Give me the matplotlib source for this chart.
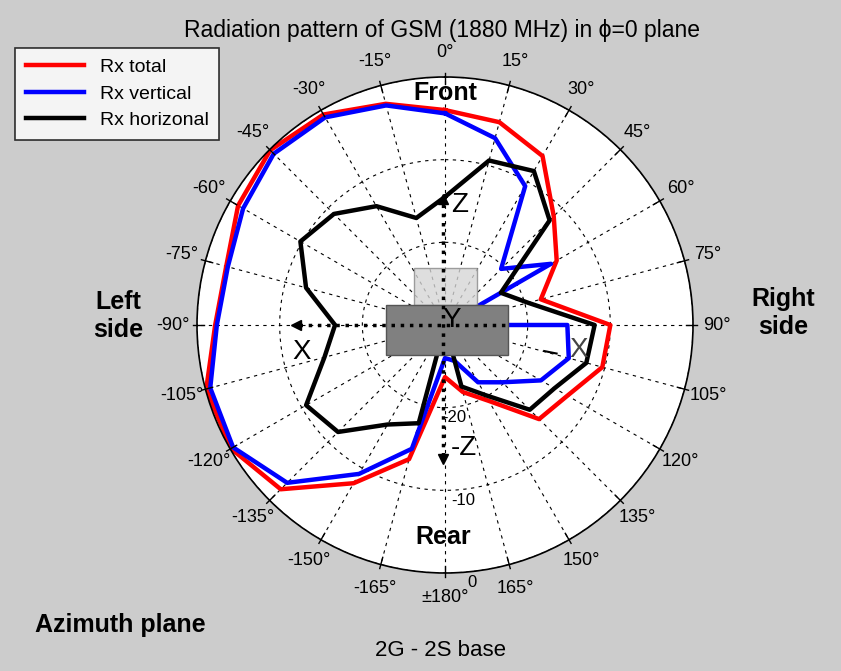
import numpy as np
import matplotlib.pyplot as plt
from matplotlib.patches import Rectangle

plt.rcParams['font.family'] = ['Liberation Sans', 'DejaVu Sans']

# azimuth angles in degrees, 0 = front, clockwise positive
angles_deg = [0, 15, 30, 45, 60, 75, 90, 105, 120, 135, 150, 165, 180,
              -165, -150, -135, -120, -105, -90, -75, -60, -45, -30, -15]
# levels in dB
rx_total = [-4.0, -4.6, -6.4, -11.4, -14.4, -18.0, -10.0, -10.3, -12.9, -13.9, -19.4, -21.6, -23.7,
            -13.2, -7.9, -1.9, -0.1, -0.1, -2.2, -2.6, -1.1, -0.1, -0.6, -2.3]
rx_vertical = [-4.4, -6.6, -10.6, -20.4, -15.2, -30.0, -15.2, -14.5, -16.6, -20.2, -22.0, -25.5, -26.0,
               -14.5, -9.2, -3.0, -0.4, -0.6, -2.4, -2.8, -1.8, -0.7, -1.0, -2.5]
rx_horizontal = [-14.5, -9.4, -8.5, -12.1, -22.2, -19.6, -11.9, -12.3, -14.7, -15.5, -20.2, -22.3, -30.0,
                 -17.7, -16.1, -11.7, -10.6, -14.9, -16.7, -12.6, -9.8, -11.0, -13.4, -16.6]

tick_angles = list(range(-165, 181, 15))
tick_labels = ['±180°' if a == 180 else f'{a}°' for a in tick_angles]
r_ticks = [-20, -10, 0]
r_labels = ['-20', '-10', '0']

W, H = 841, 671
fig = plt.figure(figsize=(W / 100, H / 100), dpi=100, facecolor='#cccccc')


def px(x, y):
    return x / W, 1 - y / H


cx, cy, R = 445, 325, 248
rect = [(cx - R) / W, (H - cy - R) / H, 2 * R / W, 2 * R / H]
ax = fig.add_axes(rect, projection='polar')
ax.set_facecolor('white')
ax.set_theta_zero_location('N')
ax.set_theta_direction(-1)


def closed(v):
    return np.append(v, v[0])


th = np.deg2rad(np.mod(closed(angles_deg), 360))
ax.plot(th, closed(rx_total), color='#ff0000', lw=3.2, label='Rx total')
ax.plot(th, closed(rx_vertical), color='#0000ff', lw=3.2, label='Rx vertical')
ax.plot(th, closed(rx_horizontal), color='black', lw=3.2, label='Rx horizonal')
ax.set_thetalim(0, 2 * np.pi)
ax.set_rlim(-30, 0)

ax.set_thetagrids(np.mod(tick_angles, 360), tick_labels, fontsize=13)
ax.set_rgrids(r_ticks, [''] * len(r_ticks))
ax.grid(True, color='black', linestyle=(0, (3, 4)), linewidth=0.8)
ax.tick_params(axis='x', pad=7)
ax.spines['polar'].set_linewidth(1.2)

# short solid ticks across the rim at every spoke
for a in tick_angles:
    t = np.deg2rad(a % 360)
    ax.plot([t, t], [-0.9, 0.5], color='black', lw=1, clip_on=False, zorder=4)

# radial labels sit just outside their ring, a little right of the rear spoke
for rv, lab in zip(r_ticks, r_labels):
    ax.text(np.deg2rad(174), rv + 1.3, lab, fontsize=12, ha='center', va='center', zorder=5)

# sketch of the device and its axes in the middle
ov = fig.add_axes(rect)
ov.set_xlim(-1, 1)
ov.set_ylim(-1, 1)
ov.axis('off')
ov.add_patch(Rectangle((-0.125, 0.081), 0.254, 0.149, fc='#d6d6d6', ec='#888888', alpha=0.8, zorder=2))
ov.add_patch(Rectangle((-0.238, -0.121), 0.492, 0.202, fc='#808080', ec='#555555', zorder=2))
ov.plot([-0.008, -0.008], [-0.53, 0.50], ls=':', color='black', lw=2.5, zorder=3)
ov.plot([-0.59, 0.26], [0, 0], ls=':', color='black', lw=2.5, zorder=3)
ov.plot(-0.008, 0.51, marker='^', color='black', ms=7, zorder=3)
ov.plot(-0.008, -0.54, marker='v', color='black', ms=7, zorder=3)
ov.plot(-0.60, 0, marker='<', color='black', ms=7, zorder=3)
ov.plot([0.40, 0.45], [-0.105, -0.115], color='black', lw=1.5, zorder=3)
ov.text(0.06, 0.484, 'Z', fontsize=20, ha='center', va='center')
ov.text(0.077, -0.496, '-Z', fontsize=20, ha='center', va='center')
ov.text(-0.577, -0.109, 'X', fontsize=20, ha='center', va='center')
ov.text(0.54, -0.10, 'X', fontsize=20, ha='center', va='center', color='#444444')
ov.text(0.028, 0.02, 'Y', fontsize=20, ha='center', va='center', zorder=4)

fig.text(*px(442, 30), 'Radiation pattern of GSM (1880 MHz) in ϕ=0 plane', ha='center', va='center', fontsize=16.5)
fig.text(*px(445, 93), 'Front', ha='center', va='center', fontsize=18, fontweight='bold')
fig.text(*px(443, 537), 'Rear', ha='center', va='center', fontsize=18, fontweight='bold')
fig.text(*px(118, 316), 'Left\nside', ha='center', va='center', fontsize=18, fontweight='bold')
fig.text(*px(783, 313), 'Right\nside', ha='center', va='center', fontsize=18, fontweight='bold')
fig.text(*px(120, 625), 'Azimuth plane', ha='center', va='center', fontsize=18, fontweight='bold')
fig.text(*px(441, 651), '2G - 2S base', ha='center', va='center', fontsize=16)

leg = fig.legend(*ax.get_legend_handles_labels(), loc='upper left', bbox_to_anchor=(15 / W, 1 - 48 / H),
                 frameon=True, fancybox=False, edgecolor='black', fontsize=14, handlelength=3,
                 borderaxespad=0, labelspacing=0.45, borderpad=0.55)
leg.get_frame().set_linewidth(1.2)

fig.savefig('out.png', dpi=100, facecolor=fig.get_facecolor())
